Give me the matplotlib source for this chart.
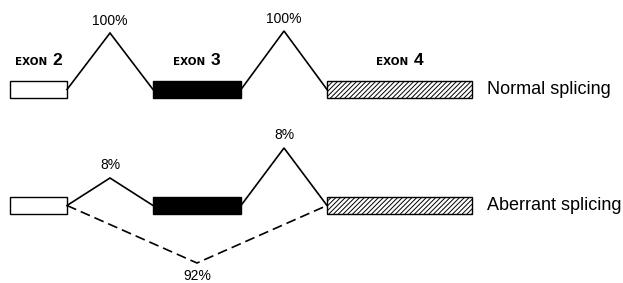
import matplotlib
matplotlib.use("Agg")
import matplotlib.pyplot as plt
from matplotlib.patches import Rectangle
from matplotlib.offsetbox import TextArea, HPacker, AnnotationBbox

# exons (drawn along a pixel-like scale, left to right)
exon_names = ["EXON", "EXON", "EXON"]
exon_nums = ["2", "3", "4"]
exon_start = [10, 153, 327]
exon_end = [67, 241, 472]
exon_fill = ["white", "black", "white"]
exon_hatch = [None, None, "///////"]

# splicing rows
row_labels = ["Normal splicing", "Aberrant splicing"]
row_y = [89.5, 205.5]

# junction peaks (height of the arc apex) and percentages
normal_peaks = [33, 31]
normal_pct = ["100%", "100%"]
aberrant_peaks = [178, 148]
aberrant_pct = ["8%", "8%"]
skip_valley = 263
skip_pct = "92%"

plt.rcParams["font.family"] = ["Liberation Sans", "DejaVu Sans"]
plt.rcParams["hatch.linewidth"] = 0.7

fig = plt.figure(figsize=(6.23, 2.83), dpi=100)
ax = fig.add_axes([0, 0, 1, 1])
ax.set_xlim(0, 623)
ax.set_ylim(283, 0)
ax.axis("off")

box_h = 17
for y in row_y:
    for s, e, fc, h in zip(exon_start, exon_end, exon_fill, exon_hatch):
        ax.add_patch(Rectangle((s, y - box_h / 2), e - s, box_h, facecolor=fc,
                               edgecolor="black", hatch=h, lw=1.0))


def arc(x0, x1, yb, ypeak, style="-"):
    xm = (x0 + x1) / 2
    ax.plot([x0, xm, x1], [yb, ypeak, yb], color="black", lw=1.2, ls=style,
            solid_joinstyle="miter")
    return xm

# normal splicing
for i in range(2):
    xm = arc(exon_end[i], exon_start[i + 1], row_y[0], normal_peaks[i])
    ax.text(xm, normal_peaks[i] - 8, normal_pct[i], ha="center", va="baseline",
            fontsize=10)

# aberrant splicing
for i in range(2):
    xm = arc(exon_end[i], exon_start[i + 1], row_y[1], aberrant_peaks[i])
    ax.text(xm, aberrant_peaks[i] - 9, aberrant_pct[i], ha="center",
            va="baseline", fontsize=10)

# exon 3 skipping
xv = arc(exon_end[0], exon_start[2], row_y[1], skip_valley, style=(0, (6, 3)))
ax.text(xv, 280, skip_pct, ha="center", va="baseline", fontsize=10)

# row labels
for lab, y in zip(row_labels, row_y):
    ax.text(487, y, lab, ha="left", va="center", fontsize=13)

# exon labels
for name, num, s, e in zip(exon_names, exon_nums, exon_start, exon_end):
    t1 = TextArea(name, textprops=dict(fontsize=7.5, fontweight="bold",
                                       family="DejaVu Sans"))
    t2 = TextArea(num, textprops=dict(fontsize=12.5, fontweight="bold",
                                      family="Liberation Sans"))
    pack = HPacker(children=[t1, t2], align="baseline", pad=0, sep=4)
    ab = AnnotationBbox(pack, ((s + e) / 2, 68), box_alignment=(0.5, 0),
                        frameon=False, pad=0)
    ax.add_artist(ab)

fig.savefig("out.png", dpi=100)
